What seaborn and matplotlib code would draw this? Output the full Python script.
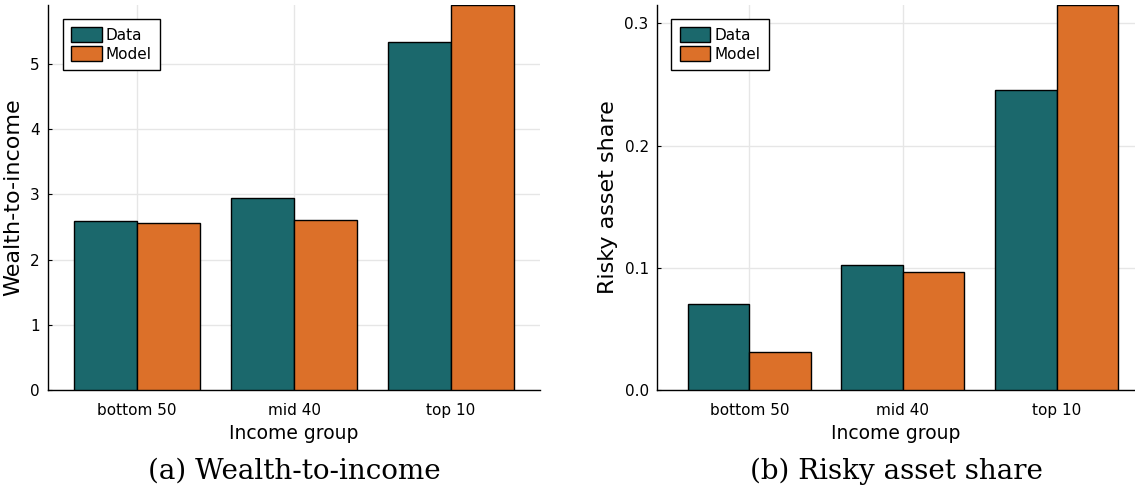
import numpy as np
import pandas as pd
from matplotlib import pyplot as plt
import seaborn as sns

groups = ['bottom 50', 'mid 40', 'top 10']
series = ['Data', 'Model']
wealth_data = [2.59, 2.95, 5.34]
wealth_model = [2.56, 2.61, 5.90]
risky_data = [0.0702, 0.102, 0.2456]
risky_model = [0.031, 0.0967, 0.315]

colors = ['#1b686c', '#dc7029']


def make_df(data, model):
    rows = []
    for g, d, m in zip(groups, data, model):
        rows.append([g, series[0], d])
        rows.append([g, series[1], m])
    return pd.DataFrame(rows, columns=['group', 'series', 'value'])


def draw_panel(ax, df, ylabel, yticks, ylim, xlim, ticklabels, caption):
    sns.barplot(data=df, x='group', y='value', hue='series', palette=colors,
                width=0.8, edgecolor='black', linewidth=1, saturation=1, ax=ax, zorder=3)
    ax.set_xlim(*xlim)
    ax.set_ylim(*ylim)
    ax.set_yticks(yticks)
    ax.set_yticklabels(ticklabels, fontsize=11)
    ax.set_xticks(range(len(groups)))
    ax.set_xticklabels(groups, fontsize=11)
    ax.tick_params(axis='y', direction='in', length=3, width=0.8, pad=6)
    ax.tick_params(axis='x', length=0, pad=9)
    ax.grid(True, color='#e6e6e6', linewidth=1, zorder=0)
    ax.set_axisbelow(True)
    for side in ['top', 'right']:
        ax.spines[side].set_visible(False)
    for side in ['left', 'bottom']:
        ax.spines[side].set_color('black')
        ax.spines[side].set_linewidth(1)
    ax.set_xlabel('Income group', fontsize=13.5, labelpad=5)
    ax.set_ylabel(ylabel, fontsize=16, labelpad=5)
    leg = ax.legend(loc='upper left', bbox_to_anchor=(0.03, 0.965), fancybox=False,
                    edgecolor='black', framealpha=1, prop={'size': 11},
                    handlelength=2.0, handleheight=1.15, handletextpad=0.25,
                    labelspacing=0.2, borderpad=0.55, borderaxespad=0)
    leg.get_frame().set_linewidth(1)
    ax.text(0.5, -0.175, caption, transform=ax.transAxes, ha='center', va='top',
            fontfamily='DejaVu Serif', fontsize=20)


fig = plt.figure(figsize=(11.35, 4.96), dpi=100)
ax1 = fig.add_axes([0.0423, 0.2137, 0.4335, 0.776])
ax2 = fig.add_axes([0.5789, 0.2137, 0.4211, 0.776])

draw_panel(ax1, make_df(wealth_data, wealth_model), 'Wealth-to-income',
           [0, 1, 2, 3, 4, 5], (0, 5.9), (-0.567, 2.567),
           ['0', '1', '2', '3', '4', '5'], '(a) Wealth-to-income')
draw_panel(ax2, make_df(risky_data, risky_model), 'Risky asset share',
           [0, 0.1, 0.2, 0.3], (0, 0.315), (-0.6, 2.51),
           ['0.0', '0.1', '0.2', '0.3'], '(b) Risky asset share')

fig.savefig('out.png', dpi=100)
